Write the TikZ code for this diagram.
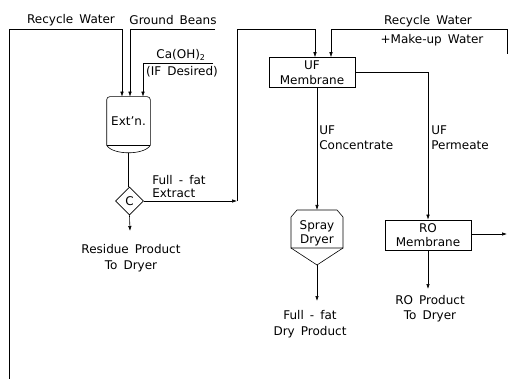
\documentclass[tikz,border=0pt]{standalone}
\usepackage{fontspec}
\setmainfont{DejaVu Sans}[WordSpace=1.6]
\usetikzlibrary{shapes.geometric,arrows.meta}
\begin{document}
\begin{tikzpicture}[x=1pt,y=-1pt,line width=.6pt,
		font=\fontsize{12}{15.5}\selectfont,
		flow/.style={-{Latex[length=5pt,width=3.5pt]}},
		unit/.style={draw,rectangle,minimum width=86pt,minimum height=30pt,align=center,inner sep=1pt},
		lbl/.style={align=center,inner sep=0pt}]
		\useasboundingbox (0,0) rectangle (508,379);
		% Các điểm đầu mút
		\coordinate (rwbot) at (9,379);
		\coordinate (beans) at (215,29);
		\coordinate (lime) at (213,63);
		\coordinate (mkup) at (507,54);
		\coordinate (jn) at (237,201);
		\coordinate (resend) at (130,231);
		\coordinate (sdin) at (317,210);
		\coordinate (sdout) at (317,265);
		\coordinate (dryend) at (317,301);
		\coordinate (roend) at (428,289);
		\coordinate (roout) at (507,234);
		% Bình chiết
		\node[minimum width=43pt,minimum height=48pt,inner sep=0pt] (ext) at (128.5,121) {Ext'n.};
		\draw[rounded corners=3pt] (ext.south west) -- (ext.north west) -- (ext.north east) -- (ext.south east);
		\draw (ext.south west) -- (ext.south east);
		\draw (ext.south west) .. controls ([xshift=6pt,yshift=-10pt]ext.south west) and ([xshift=-6pt,yshift=-10pt]ext.south east) .. (ext.south east);
		\coordinate (extout) at ([yshift=-7.5pt]ext.south);
		\node[draw,diamond,minimum size=28pt,inner sep=0pt] (c) at (129.5,201) {C};
		% Màng lọc
		\node[unit] (uf) at (312,72.5) {UF\\[-1pt]Membrane};
		\node[unit] (ro) at (428,235) {RO\\[-1.5pt]Membrane};
		% Máy sấy phun
		\node[lbl] (sd) at (317,233) {Spray\\[-1.5pt]Dryer};
		\draw (297,210) -- (337,210) -- (343,217) -- (343,248) -- (291,248) -- (291,217) -- cycle;
		\draw (291,248) -- (sdout) -- (343,248);
		% Dòng chảy
		\draw[flow] (rwbot) -- (9,29) -| ([xshift=-6.5pt]ext.north);
		\draw[flow] (beans) -| ([xshift=1.5pt]ext.north);
		\draw[flow] (lime) -| ([xshift=14.5pt]ext.north);
		\draw (extout) -- (extout |- c.north);
		\draw[flow] (c.south) -- (resend);
		\draw[flow] (c.east) -- (jn);
		\draw[flow] (jn) -- (237,29) -| ([xshift=3pt]uf.north);
		\draw[flow] (mkup) -- (507,29) -| ([xshift=19pt]uf.north);
		\draw[flow] (uf.south -| sdin) -- (sdin);
		\draw[flow] (uf.east) -| (ro.north);
		\draw[flow] (sdout) -- (dryend);
		\draw[flow] (ro.south) -- (roend);
		\draw[flow] (ro.east |- roout) -- (roout);
		% Nhãn
		\node[lbl] (rwl) at (71,20) {Recycle Water};
		\node[lbl] (gb) at (173,20) {Ground Beans};
		\node[lbl] (ca) at (181,55) {Ca(OH)\textsubscript{2}};
		\node[lbl] (ifd) at (182,72) {(IF Desired)};
		\node[lbl,align=left,anchor=west] (ffe) at (152,186.5) {Full - fat\\[-2.5pt]Extract};
		\node[lbl] (res) at (131,258) {Residue Product\\To Dryer};
		\node[lbl] (rwr) at (428,21) {Recycle Water};
		\node[lbl] (mu) at (432,40) {+Make-up Water};
		\node[lbl,align=left,anchor=west] (ufc) at (319,137.5) {UF\\Concentrate};
		\node[lbl,align=left,anchor=west] (ufp) at (431,137.5) {UF\\Permeate};
		\node[lbl] (dry) at (310,324) {Full - fat\\Dry Product};
		\node[lbl] (rop) at (430,308.5) {RO Product\\To Dryer};
\end{tikzpicture}
\end{document}
